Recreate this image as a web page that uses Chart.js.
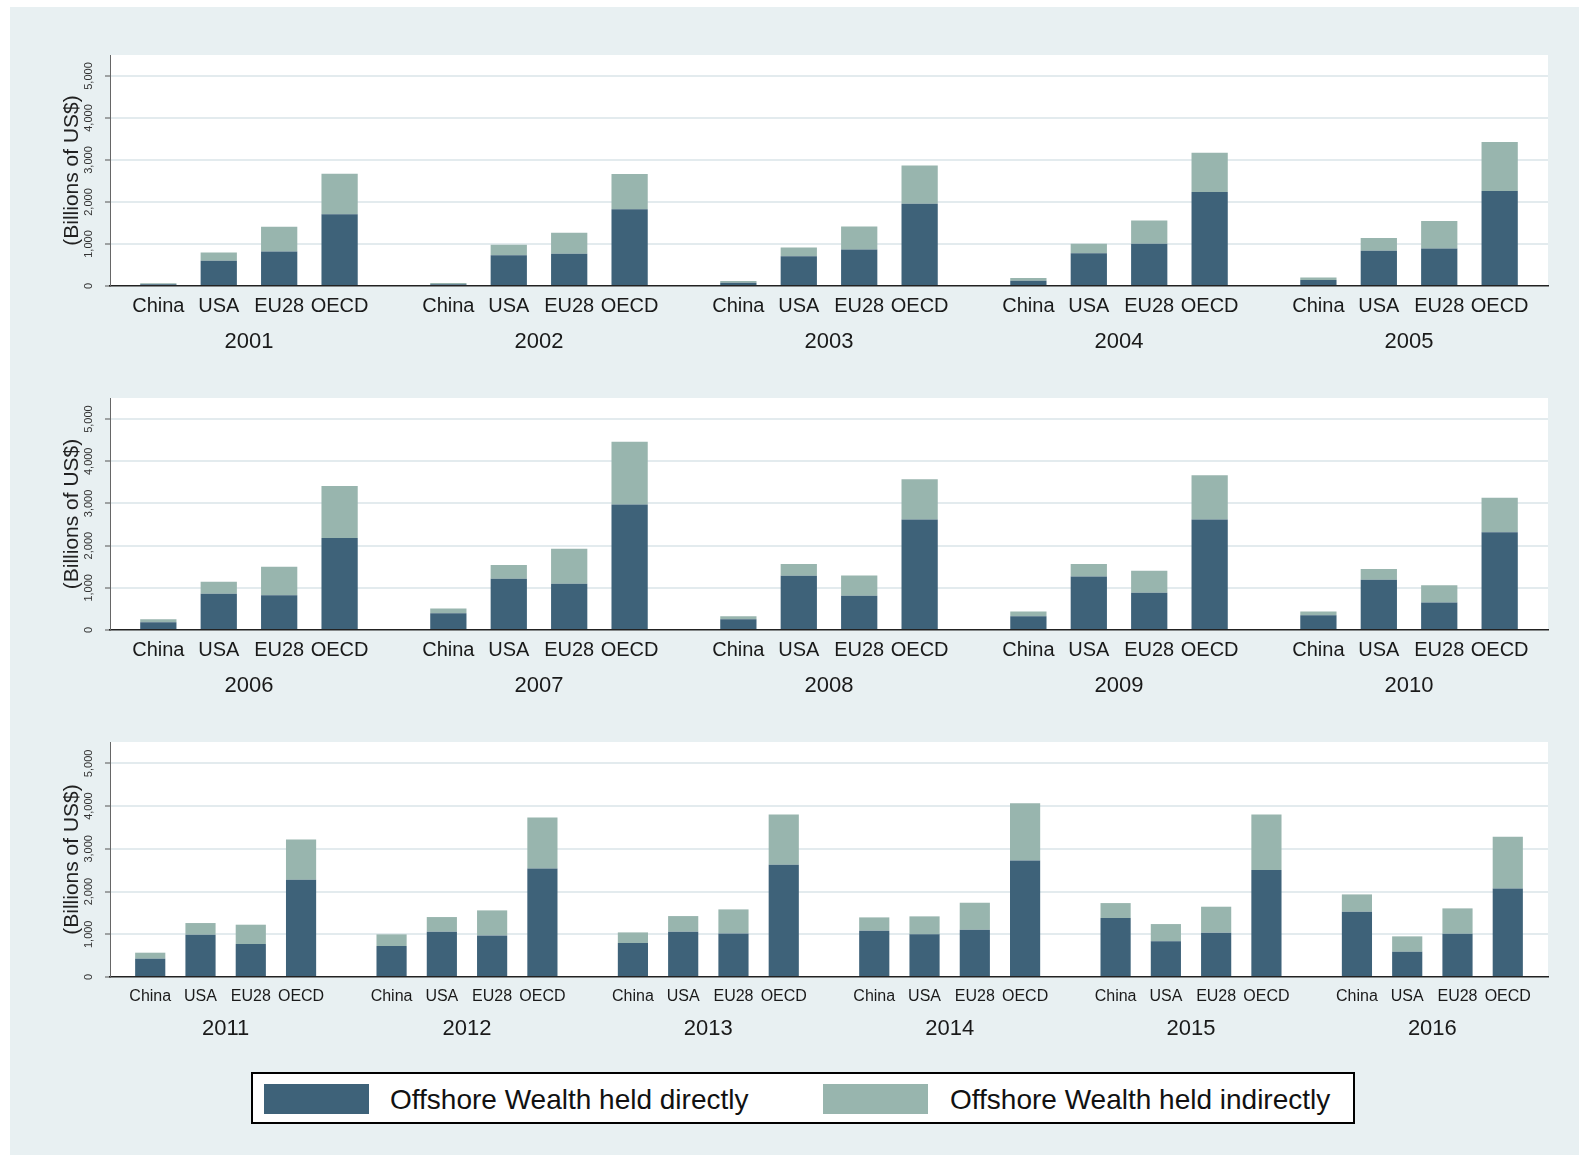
<!DOCTYPE html>
<html>
<head>
<meta charset="utf-8">
<script src="https://cdn.jsdelivr.net/npm/chart.js@4.4.1/dist/chart.umd.min.js"></script>
<style>
  body { margin: 0; background: #fff; width: 1579px; height: 1155px; overflow: hidden; position: relative;
         font-family: "Liberation Sans", Arial, sans-serif; }
  #bg { position: absolute; left: 10px; top: 7px; right: 0; bottom: 0; background: #e8f0f2; }
  canvas { position: absolute; left: 0; }
  #legend { position: absolute; left: 251px; top: 1072px; width: 1100px; height: 48px;
            border: 2px solid #000; background: #fff; }
  .sw { position: absolute; top: 10px; width: 105px; height: 30px; }
  .lt { position: absolute; top: 0; line-height: 52px; font-size: 28px; color: #111; white-space: nowrap; }
</style>
</head>
<body>
<div id="bg"></div>
<canvas id="p1" width="1579" height="310" style="top:50px"></canvas>
<canvas id="p2" width="1579" height="311" style="top:393px"></canvas>
<canvas id="p3" width="1579" height="309" style="top:737px"></canvas>
<div id="legend"></div>
<script>
const years = [2001, 2002, 2003, 2004, 2005, 2006, 2007, 2008, 2009, 2010, 2011, 2012, 2013, 2014, 2015, 2016];
const categories = ["China", "USA", "EU28", "OECD"];
const seriesNames = ["Offshore Wealth held directly", "Offshore Wealth held indirectly"];

// billions of US$
const chinaDirect   = [40, 40, 80, 127, 140, 183, 397, 254, 325, 349, 429, 725, 795, 1083, 1380, 1528];
const chinaIndirect = [25, 32, 40, 64, 60, 71, 111, 71, 112, 88, 140, 273, 249, 312, 350, 405];
const usaDirect     = [600, 733, 709, 781, 840, 857, 1214, 1286, 1270, 1190, 990, 1060, 1060, 998, 834, 592];
const usaIndirect   = [200, 247, 207, 223, 300, 286, 326, 277, 293, 254, 273, 343, 366, 421, 405, 359];
const eu28Direct    = [820, 765, 869, 1004, 890, 825, 1095, 810, 881, 651, 772, 974, 1021, 1107, 1037, 1013];
const eu28Indirect  = [590, 502, 549, 558, 660, 675, 834, 484, 524, 412, 452, 585, 561, 631, 608, 593];
const oecdDirect    = [1710, 1825, 1960, 2240, 2260, 2183, 2976, 2619, 2619, 2317, 2276, 2541, 2627, 2728, 2502, 2073];
const oecdIndirect  = [960, 844, 909, 930, 1170, 1230, 1484, 952, 1048, 818, 943, 1192, 1177, 1341, 1302, 1208];

const yTicks = [0, 1000, 2000, 3000, 4000, 5000];

const direct = [chinaDirect, usaDirect, eu28Direct, oecdDirect];
const indirect = [chinaIndirect, usaIndirect, eu28Indirect, oecdIndirect];

const COLORS = ["#3e6279", "#98b5ae"];
const GRID = "#e3ebee";
const FONT = '"Liberation Sans", Arial, sans-serif';
const GROUP_STEP = 4.8;   // 4 bars + gap, in bar slots
const PAD = 0.8;

Chart.defaults.font.family = FONT;
Chart.defaults.color = "#1a1a1a";

const panels = [
  { id: "p1", from: 0, to: 5,  catFont: 20, catPad: 8.7, catH: 34, yearPad: 8.5 },
  { id: "p2", from: 5, to: 10, catFont: 20, catPad: 8.7, catH: 34, yearPad: 8.5 },
  { id: "p3", from: 10, to: 16, catFont: 16, catPad: 9.7, catH: 29, yearPad: 10.1 }
];

const plotBg = {
  id: "plotBg",
  beforeDraw(chart) {
    const { ctx, chartArea: a } = chart;
    ctx.save();
    ctx.fillStyle = "#fff";
    ctx.fillRect(a.left, a.top, a.right - a.left, a.bottom - a.top);
    ctx.restore();
  },
  afterDraw(chart) {
    const { ctx, chartArea: a } = chart;
    const y = chart.scales.y;
    ctx.save();
    ctx.font = "11px " + FONT;
    ctx.fillStyle = "#333";
    ctx.textAlign = "center";
    ctx.textBaseline = "middle";
    yTicks.forEach(v => {
      ctx.save();
      ctx.translate(a.left - 21, y.getPixelForValue(v));
      ctx.rotate(-Math.PI / 2);
      ctx.fillText(v.toLocaleString("en-US"), 0, 0);
      ctx.restore();
    });
    ctx.restore();
  }
};

panels.forEach(p => {
  const pYears = years.slice(p.from, p.to);
  const nG = pYears.length;
  const barPos = [], groupPos = [];
  const dData = [], iData = [];
  pYears.forEach((yr, g) => {
    const k = p.from + g;
    groupPos.push(g * GROUP_STEP + 1.5);
    categories.forEach((c, i) => {
      const x = g * GROUP_STEP + i;
      barPos.push(x);
      dData.push({ x: x, y: direct[i][k] });
      iData.push({ x: x, y: indirect[i][k] });
    });
  });
  const xMin = -PAD, xMax = (nG - 1) * GROUP_STEP + 3 + PAD;

  new Chart(document.getElementById(p.id), {
    type: "bar",
    data: {
      datasets: [
        { label: seriesNames[0], data: dData, backgroundColor: COLORS[0], stack: "s" },
        { label: seriesNames[1], data: iData, backgroundColor: COLORS[1], stack: "s" }
      ]
    },
    options: {
      responsive: false,
      animation: false,
      categoryPercentage: 1,
      barPercentage: 0.6,
      layout: { padding: { left: 50, right: 31, top: 5, bottom: 0 } },
      plugins: { legend: { display: false }, tooltip: { enabled: false } },
      scales: {
        x: {
          type: "linear", position: "bottom", weight: 0, bounds: "data", offset: false,
          min: xMin, max: xMax,
          afterBuildTicks: s => { s.ticks = barPos.map(v => ({ value: v })); },
          afterFit: s => { s.height = p.catH; },
          ticks: {
            autoSkip: false, maxRotation: 0, minRotation: 0, includeBounds: false,
            padding: p.catPad, font: { size: p.catFont }, color: "#1a1a1a",
            callback: (v, i) => categories[i % 4]
          },
          grid: { display: false, drawTicks: false, offset: false },
          border: { display: true, color: "#222", width: 1.5 }
        },
        xYear: {
          axis: "x", type: "linear", position: "bottom", weight: 1, bounds: "data", offset: false,
          min: xMin, max: xMax,
          afterBuildTicks: s => { s.ticks = groupPos.map(v => ({ value: v })); },
          afterFit: s => { s.height = 40; },
          ticks: {
            autoSkip: false, maxRotation: 0, minRotation: 0, includeBounds: false,
            padding: p.yearPad, font: { size: 22 }, color: "#1a1a1a",
            callback: (v, i) => String(pYears[i])
          },
          grid: { display: false, drawTicks: false, offset: false },
          border: { display: false }
        },
        y: {
          type: "linear", stacked: true, min: 0, max: 5500, bounds: "data",
          afterFit: s => { s.width = 60; },
          afterBuildTicks: s => { s.ticks = yTicks.map(v => ({ value: v })); },
          ticks: { display: false, stepSize: 1000, includeBounds: false },
          grid: {
            color: ctx => ctx.tick && ctx.tick.value === 0 ? "rgba(0,0,0,0)" : GRID,
            lineWidth: 2, drawTicks: true, tickLength: 5, tickColor: "#555", tickWidth: 1
          },
          border: { display: true, color: "#666", width: 1 },
          title: {
            display: true, text: "(Billions of US$)", color: "#222",
            font: { size: 21 }, padding: { top: 9.4, bottom: 0 }
          }
        }
      }
    },
    plugins: [plotBg]
  });
});

// legend
const legend = document.getElementById("legend");
const swX = [11, 570], txX = [137, 697];
seriesNames.forEach((name, i) => {
  const sw = document.createElement("div");
  sw.className = "sw";
  sw.style.left = swX[i] + "px";
  sw.style.background = COLORS[i];
  legend.appendChild(sw);
  const t = document.createElement("div");
  t.className = "lt";
  t.style.left = txX[i] + "px";
  t.textContent = name;
  legend.appendChild(t);
});
</script>
</body>
</html>
